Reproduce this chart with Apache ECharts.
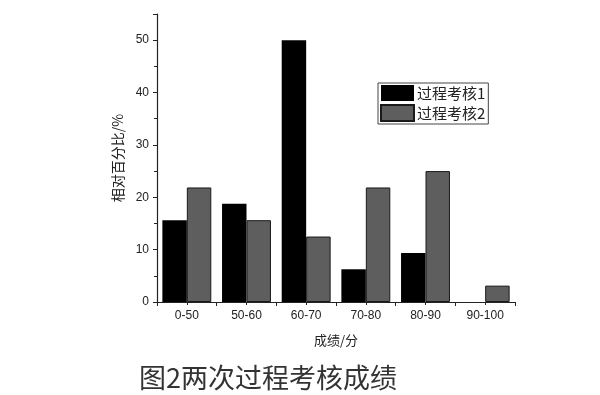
<!DOCTYPE html>
<html><head><meta charset="utf-8">
<script src="https://cdn.jsdelivr.net/npm/echarts@6/dist/echarts.min.js"></script>
<style>html,body{margin:0;padding:0;background:#fff}#c{width:600px;height:395px}</style>
</head><body><div id="c"></div>
<script>
const categories = ['0-50','50-60','60-70','70-80','80-90','90-100'];
const series1 = [15.625, 18.75, 50, 6.25, 9.375, 0];
const series2 = [21.875, 15.625, 12.5, 21.875, 25, 3.125];
const seriesNames = ['过程考核1','过程考核2'];
const yTitle = '相对百分比/%';
const xTitle = '成绩/分';
const caption = '图2两次过程考核成绩';

const chart = echarts.init(document.getElementById('c'), null, {renderer:'canvas'});
const font = 'Liberation Sans, Arial, "Noto Sans CJK SC", sans-serif';
chart.setOption({
  backgroundColor:'#fff',
  animation:false,
  textStyle:{fontFamily:font},
  title:{text:caption, left:134, top:359, textStyle:{fontSize:27, fontWeight:'normal', color:'#333', fontFamily:'"Noto Sans CJK SC", sans-serif'}},
  legend:{
    data:seriesNames, orient:'vertical', left:378, top:83, icon:'rect',
    itemWidth:33, itemHeight:16, itemGap:3, padding:[2,3,2,2],
    borderColor:'#444', borderWidth:1,
    textStyle:{fontSize:15, color:'#222', fontFamily:'"Noto Sans CJK SC", sans-serif', padding:[0,0,0,-2]}
  },
  grid:{left:157, right:85, top:14, bottom:93, containLabel:false},
  xAxis:[{
    type:'category', data:categories,
    axisLine:{lineStyle:{color:'#222', width:1.2}},
    axisTick:{show:true, alignWithLabel:false, length:4, lineStyle:{color:'#222'}},
    axisLabel:{fontSize:12, color:'#222', margin:8},
    name:xTitle, nameLocation:'middle', nameGap:32,
    nameTextStyle:{fontSize:13, color:'#222', fontFamily:'"Noto Sans CJK SC", sans-serif'}
  },{
    type:'category', data:categories, position:'bottom',
    axisLine:{show:false}, axisLabel:{show:false},
    axisTick:{show:true, alignWithLabel:true, length:3, lineStyle:{color:'#222'}}
  }],
  yAxis:{
    type:'value', min:0, max:55, interval:10,
    axisLine:{show:true, lineStyle:{color:'#222', width:1.2}},
    axisTick:{show:true, length:4, lineStyle:{color:'#222'}},
    minorTick:{show:true, splitNumber:2, length:3, lineStyle:{color:'#222'}},
    splitLine:{show:false},
    axisLabel:{fontSize:12, color:'#222', margin:8, showMaxLabel:false},
    name:yTitle, nameLocation:'middle', nameGap:27,
    nameTextStyle:{fontSize:14, color:'#222', fontFamily:'"Noto Sans CJK SC", sans-serif'}
  },
  series:[
    {name:seriesNames[0], type:'bar', data:series1, barGap:'0%', barCategoryGap:'18%',
     itemStyle:{color:'#000', borderWidth:0}},
    {name:seriesNames[1], type:'bar', data:series2, barGap:'0%', barCategoryGap:'18%',
     itemStyle:{color:'#5e5e5e', borderColor:'#1a1a1a', borderWidth:1}}
  ]
});
</script></body></html>
